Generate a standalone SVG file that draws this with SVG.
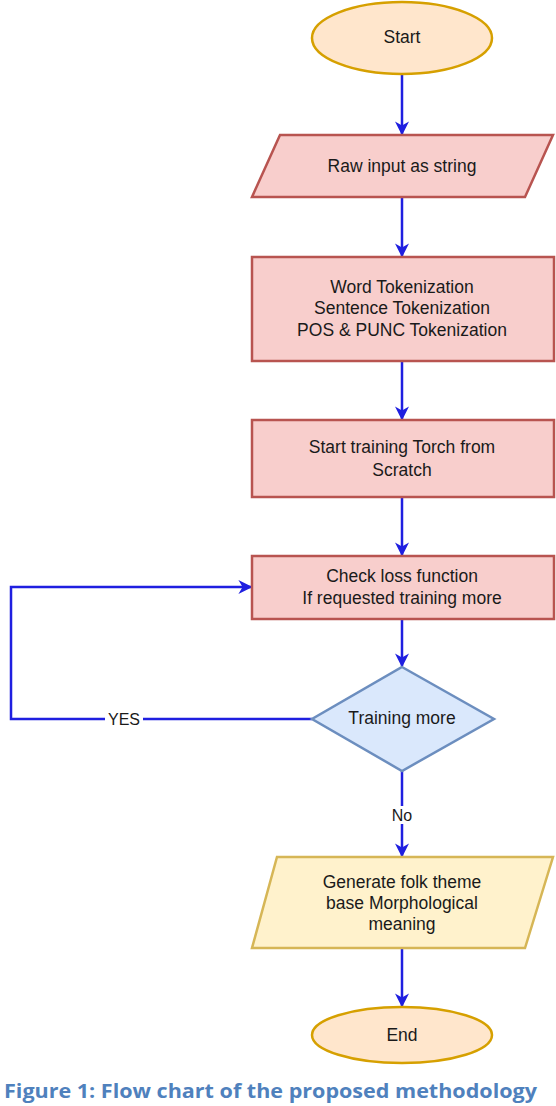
<svg xmlns="http://www.w3.org/2000/svg" width="556" height="1106" viewBox="0 0 556 1106">
<defs>
<marker id="ah" viewBox="0 0 10 10" refX="9" refY="5" markerWidth="14" markerHeight="14" markerUnits="userSpaceOnUse" orient="auto">
<path d="M0,0 L10,5 L0,10 L3,5 Z" fill="#1f1fe0"/>
</marker>
<style>
text{font-family:"Liberation Sans",Arial,sans-serif;font-size:17.5px;fill:#1a1a1a;text-anchor:middle;dominant-baseline:central}
.term{fill:#ffe6cc;stroke:#d6a000;stroke-width:2.5}
.proc{fill:#f8cecc;stroke:#b85450;stroke-width:2.5}
.dec{fill:#dae8fc;stroke:#6c8ebf;stroke-width:2.5}
.out{fill:#fff2cc;stroke:#d6b656;stroke-width:2.5}
.edge{fill:none;stroke:#1f1fe0;stroke-width:2.5;marker-end:url(#ah)}
.lbl{font-size:16px}
.cap{font-family:"Open Sans","Liberation Sans",sans-serif;font-weight:bold;font-size:20px;fill:#4f81bd;text-anchor:start;dominant-baseline:auto}
</style>
</defs>
<g id="connectors">
<path class="edge" d="M402,74 V134"/>
<path class="edge" d="M402,197 V256"/>
<path class="edge" d="M402,361 V419"/>
<path class="edge" d="M402,497 V555"/>
<path class="edge" d="M402,619 V666"/>
<path class="edge" d="M312,719 H11 V587 H251"/>
<path class="edge" d="M402,771 V856"/>
<path class="edge" d="M402,948 V1006"/>
<rect x="105" y="710" width="38" height="18" fill="#ffffff"/>
<text class="lbl" x="124" y="719">YES</text>
<rect x="390" y="806" width="24" height="18" fill="#ffffff"/>
<text class="lbl" x="402" y="815">No</text>
</g>
<g id="start">
<ellipse class="term" cx="402" cy="38" rx="90" ry="36"/>
<text x="402" y="37">Start</text>
</g>
<g id="raw-input">
<path class="proc" d="M280,135 H553 L525,197 H252 Z"/>
<text x="402" y="166">Raw input as string</text>
</g>
<g id="tokenization">
<rect class="proc" x="252" y="257" width="302" height="104"/>
<text x="402" y="287">Word Tokenization</text>
<text x="402" y="308">Sentence Tokenization</text>
<text x="402" y="330">POS &amp; PUNC Tokenization</text>
</g>
<g id="training">
<rect class="proc" x="252" y="420" width="302" height="77"/>
<text x="402" y="447">Start training Torch from</text>
<text x="402" y="470">Scratch</text>
</g>
<g id="check-loss">
<rect class="proc" x="252" y="556" width="302" height="63"/>
<text x="402" y="576">Check loss function</text>
<text x="402" y="598">If requested training more</text>
</g>
<g id="decision">
<path class="dec" d="M402,667 L494,719 L402,771 L312,719 Z"/>
<text x="402" y="718">Training more</text>
</g>
<g id="generate">
<path class="out" d="M277,857 H553 L525,948 H252 Z"/>
<text x="402" y="882">Generate folk theme</text>
<text x="402" y="903">base Morphological</text>
<text x="402" y="924">meaning</text>
</g>
<g id="end">
<ellipse class="term" cx="402" cy="1035" rx="90" ry="28"/>
<text x="402" y="1035">End</text>
</g>
<text class="cap" x="4" y="1098" textLength="533" lengthAdjust="spacingAndGlyphs">Figure 1: Flow chart of the proposed methodology</text>
</svg>
